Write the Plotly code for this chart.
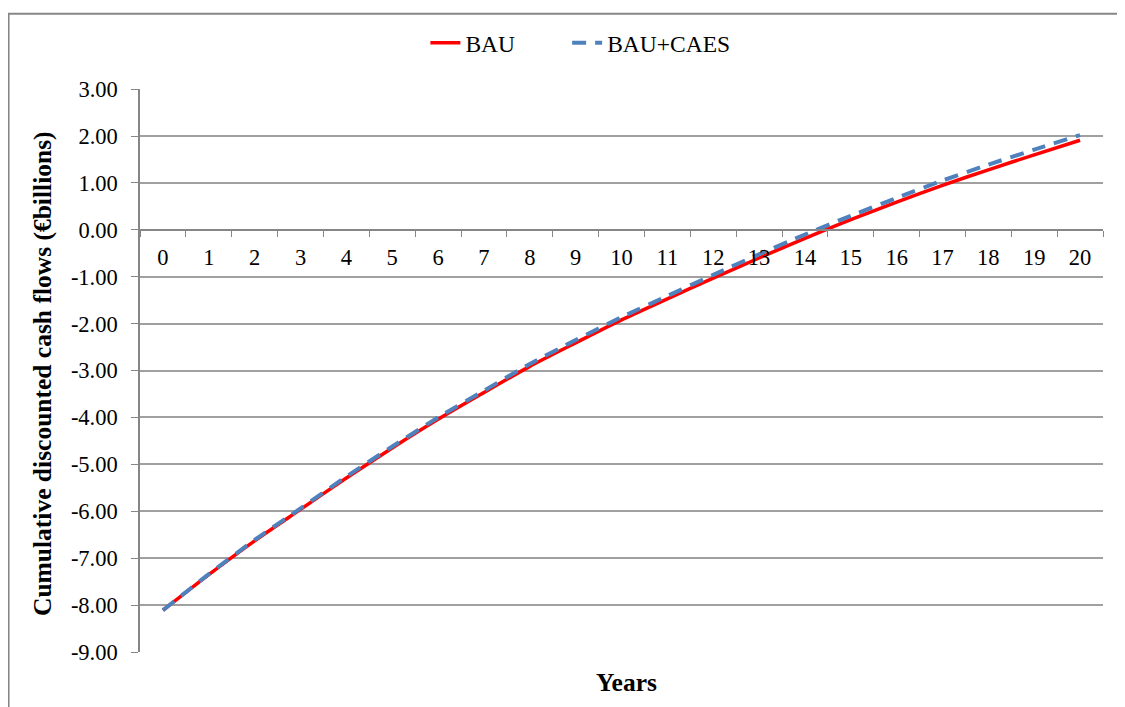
import plotly.graph_objects as go

years = [str(i) for i in range(21)]
bau = [-8.11, -7.35, -6.63, -5.96, -5.29, -4.65, -4.04, -3.47, -2.91, -2.41,
       -1.92, -1.47, -1.03, -0.60, -0.18, 0.22, 0.59, 0.95, 1.28, 1.60, 1.91]
bau_caes = [-8.11, -7.34, -6.61, -5.94, -5.26, -4.62, -4.00, -3.43, -2.86, -2.35,
            -1.86, -1.41, -0.96, -0.52, -0.10, 0.30, 0.68, 1.05, 1.39, 1.71, 2.02]
y_ticks = list(range(-9, 4))
y_labels = [f"{v:.2f}" for v in y_ticks]

FONT = "Liberation Serif"
AXIS_GREY = "#868686"
GRID_GREY = "#a0a0a0"
LEGEND_FONT = {"family": FONT, "size": 23.5, "color": "#000"}

fig = go.Figure()
fig.add_trace(
    go.Scatter(
        x=years,
        y=bau,
        name="BAU",
        mode="lines",
        legend="legend",
        line={"color": "#ff0000", "width": 3.5, "shape": "spline", "smoothing": 0.6},
    )
)
fig.add_trace(
    go.Scatter(
        x=years,
        y=bau_caes,
        name="BAU+CAES",
        mode="lines",
        legend="legend2",
        line={
            "color": "#4f81bd",
            "width": 4,
            "dash": "14px,9px",
            "shape": "spline",
            "smoothing": 0.6,
        },
    )
)

fig.update_xaxes(
    type="category",
    range=[-0.5, 20.5],
    anchor="free",
    position=0.75,  # axis crosses at y = 0
    showline=True,
    linecolor=AXIS_GREY,
    linewidth=1.5,
    showgrid=False,
    ticks="outside",
    tickson="boundaries",
    ticklen=6,
    tickcolor=AXIS_GREY,
    tickfont={"family": FONT, "size": 22.5, "color": "#000"},
    ticklabelstandoff=7,
    fixedrange=True,
)
fig.update_yaxes(
    range=[-9, 3],
    tickvals=y_ticks,
    ticktext=y_labels,
    showline=True,
    linecolor=AXIS_GREY,
    linewidth=1.5,
    showgrid=True,
    gridcolor=GRID_GREY,
    gridwidth=1.5,
    zeroline=False,
    ticks="outside",
    ticklen=7,
    tickcolor=AXIS_GREY,
    tickfont={"family": FONT, "size": 22.5, "color": "#000"},
    ticklabelstandoff=9,
    fixedrange=True,
)

fig.add_annotation(
    text="<b>Cumulative discounted cash flows (€billions)</b>",
    xref="paper", yref="paper", x=-0.1018, y=0.4956,
    xanchor="center", yanchor="middle",
    textangle=-90, showarrow=False,
    font={"family": FONT, "size": 25.5, "color": "#000"},
)
fig.add_annotation(
    text="<b>Years</b>",
    xref="paper", yref="paper", x=0.505, y=-0.0549,
    xanchor="center", yanchor="middle",
    showarrow=False,
    font={"family": FONT, "size": 25.5, "color": "#000"},
)

# outer chart frame
fig.add_shape(
    type="rect",
    xref="paper", yref="paper",
    x0=-0.1365, x1=1.0215, y0=-0.13, y1=1.134,
    line={"color": AXIS_GREY, "width": 2},
    layer="below",
)

fig.update_layout(
    width=1125,
    height=707,
    margin={"l": 132, "r": 30, "t": 79, "b": 63},
    paper_bgcolor="#ffffff",
    plot_bgcolor="#ffffff",
    font_family=FONT,
    font_color="#000",
    showlegend=True,
    legend={
        "orientation": "h",
        "xref": "container",
        "yref": "container",
        "x": 0.371,
        "y": 0.9505,
        "xanchor": "left",
        "yanchor": "middle",
        "font": LEGEND_FONT,
    },
    legend2={
        "orientation": "h",
        "xref": "container",
        "yref": "container",
        "x": 0.497,
        "y": 0.9505,
        "xanchor": "left",
        "yanchor": "middle",
        "font": LEGEND_FONT,
    },
)

fig.write_html("out.html")
